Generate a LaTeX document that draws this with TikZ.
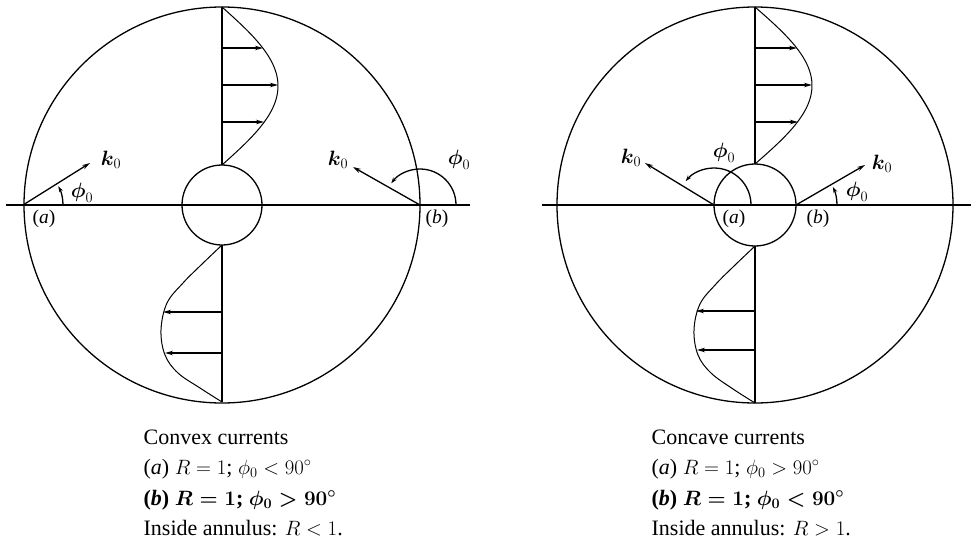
\documentclass[tikz,border=0pt]{standalone}
\usepackage{fontspec}
\setmainfont{Liberation Serif}
\usepackage{amsmath}
\usetikzlibrary{arrows.meta}
\begin{document}
\begin{tikzpicture}[x=1pt,y=-1pt,line width=1.3pt]
\tikzset{
  arr/.style={-{Stealth[length=8pt,width=4.5pt]}},
  arcarr/.style={-{Stealth[length=6pt,width=4pt]}},
  lbl/.style={inner sep=0pt,font=\fontsize{19.5}{22}\selectfont},
  captxt/.style={anchor=base west,inner sep=0pt,font=\fontsize{22}{25}\selectfont},
  captbold/.style={anchor=base west,inner sep=0pt,font=\fontsize{22}{25}\selectfont\bfseries\mathversion{bold}},
}
\useasboundingbox (0,0) rectangle (971,546);

% ================= LEFT DIAGRAM =================
\coordinate (L) at (222,205);
\draw (L) circle[radius=198];
\draw (L) circle[radius=40];
\coordinate (Lh1) at (6,205);
\coordinate (Lh2) at (470,205);
\draw (Lh1) -- (Lh2);
\coordinate (Ltop) at (222,7);
\coordinate (Litop) at (222,165);
\coordinate (Libot) at (222,245);
\coordinate (Lbot) at (222,402);
\draw (Ltop) -- (Litop);
\draw (Libot) -- (Lbot);
% upper profile
\draw[line width=1pt] plot[domain=7:165,samples=80] ({222+56*sin(1.1392*(\x-7))},\x);
\draw[arr] (222,48) -- (263,48);
\draw[arr] (222,85) -- (278,85);
\draw[arr] (222,122) -- (264,122);
% lower profile
\draw[line width=1pt] plot[smooth,tension=0.6] coordinates {(222,245) (200,266) (183,283) (167,303) (161,330) (165,355) (178,373) (200,388) (222,402)};
\draw[arr] (222,312) -- (163,312);
\draw[arr] (222,353) -- (165,353);
% point (a)
\coordinate (La) at (23,205);
\coordinate (Lak) at (90,163);
\draw[arr] (La) -- (Lak);
\draw[arcarr] ([shift={(0:40)}]La) arc[start angle=0,end angle=-28,radius=40];
\node[lbl] (Lkl) at (111,160) {$\boldsymbol{k}_0$};
\node[lbl] (Lphil) at (82,193) {$\boldsymbol{\phi}_0$};
\node[lbl] (Lal) at (44,219) {(\textit{a})};
% point (b)
\coordinate (Lb) at (420,205);
\coordinate (Lbk) at (353,167);
\draw[arr] (Lb) -- (Lbk);
\draw[arcarr] ([shift={(0:36)}]Lb) arc[start angle=0,end angle=-143,radius=36];
\node[lbl] (Lk2) at (338,160) {$\boldsymbol{k}_0$};
\node[lbl] (Lphi2) at (459,160) {$\boldsymbol{\phi}_0$};
\node[lbl] (Lbl) at (437,219) {(\textit{b})};

% ================= RIGHT DIAGRAM =================
\coordinate (Rc) at (755,205);
\draw (Rc) circle[radius=198];
\draw (Rc) circle[radius=41];
\coordinate (Rh1) at (542,205);
\coordinate (Rh2) at (971,205);
\draw (Rh1) -- (Rh2);
\coordinate (Rtop) at (755,7);
\coordinate (Ritop) at (755,164);
\coordinate (Ribot) at (755,246);
\coordinate (Rbot) at (755,403);
\draw (Rtop) -- (Ritop);
\draw (Ribot) -- (Rbot);
% upper profile
\draw[line width=1pt] plot[domain=7:164,samples=80] ({755+57*sin(1.1465*(\x-7))},\x);
\draw[arr] (755,48) -- (797,48);
\draw[arr] (755,85) -- (812,85);
\draw[arr] (755,122) -- (798,122);
% lower profile
\draw[line width=1pt] plot[smooth,tension=0.6] coordinates {(755,246) (733,267) (716,284) (700,304) (694,330) (698,355) (711,373) (733,389) (755,403)};
\draw[arr] (755,311) -- (696,311);
\draw[arr] (755,350) -- (697,350);
% point (a)
\coordinate (Ra) at (714,205);
\coordinate (Rak) at (645,163);
\draw[arr] (Ra) -- (Rak);
\draw[arcarr] ([shift={(0:37)}]Ra) arc[start angle=0,end angle=-140,radius=37];
\node[lbl] (Rk1) at (631,158) {$\boldsymbol{k}_0$};
\node[lbl] (Rphi1) at (724,153) {$\boldsymbol{\phi}_0$};
\node[lbl] (Ral) at (734,219) {(\textit{a})};
% point (b)
\coordinate (Rb) at (796,205);
\coordinate (Rbk) at (865,165);
\draw[arr] (Rb) -- (Rbk);
\draw[arcarr] ([shift={(0:41)}]Rb) arc[start angle=0,end angle=-26,radius=41];
\node[lbl] (Rk2) at (882,164) {$\boldsymbol{k}_0$};
\node[lbl] (Rphi2) at (857,192) {$\boldsymbol{\phi}_0$};
\node[lbl] (Rbl) at (818,219) {(\textit{b})};

% ================= CAPTIONS =================
\node[captxt] (c1) at (143,444) {Convex currents};
\node[captxt] (c2) at (143,474) {(\textit{a}) $R=1$; $\phi_0<90^\circ$};
\node[captbold] (c3) at (143,505) {(\textit{b}) $R=1$; $\phi_0>90^\circ$};
\node[captxt] (c4) at (143,535) {Inside annulus: $R<1$.};

\node[captxt] (d1) at (651,444) {Concave currents};
\node[captxt] (d2) at (651,474) {(\textit{a}) $R=1$; $\phi_0>90^\circ$};
\node[captbold] (d3) at (651,505) {(\textit{b}) $R=1$; $\phi_0<90^\circ$};
\node[captxt] (d4) at (651,535) {Inside annulus: $R>1$.};
\end{tikzpicture}
\end{document}
